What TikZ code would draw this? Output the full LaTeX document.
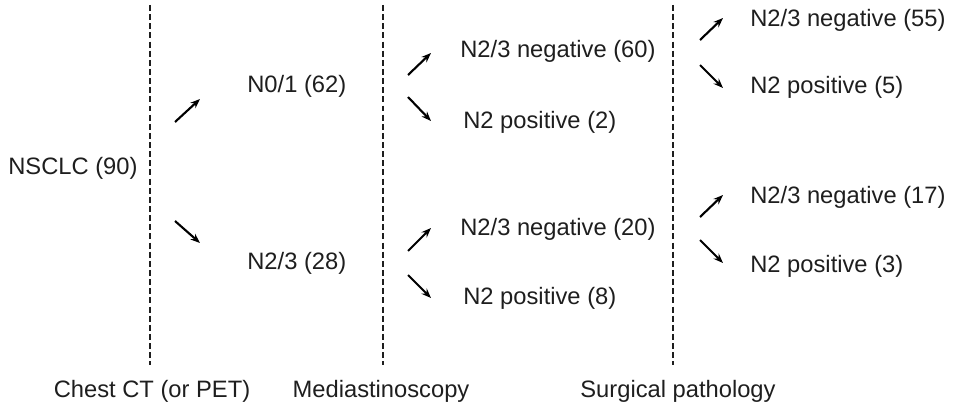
\documentclass[tikz,border=0pt]{standalone}
\usepackage{fontspec}
\setmainfont{Liberation Sans}
\usepackage{xcolor}
\usetikzlibrary{arrows.meta,calc}
\definecolor{inkgray}{RGB}{30,30,30}

\tikzset{
  stage/.style={inner sep=0pt, anchor=west, text=inkgray, font=\fontsize{13.5pt}{16pt}\selectfont},
  caption/.style={inner sep=0pt, text=inkgray, font=\fontsize{13.5pt}{16pt}\selectfont},
  branch/.style={line width=1.2pt, -{Stealth[length=5.5pt,width=4.2pt]}},
  divider/.style={line width=0.7pt, color=inkgray, dash pattern=on 3.4pt off 1.8pt}
}

\begin{document}
\begin{tikzpicture}
  \useasboundingbox (0,0) rectangle (19.24,8.22);

  % Stage dividers
  \draw[divider] (3.0,8.12) -- (3.0,0.92);
  \draw[divider] (7.66,8.12) -- (7.66,0.92);
  \draw[divider] (13.46,8.12) -- (13.46,0.92);

  % Cohort and CT result
  \node[stage] (nsclc) at (0.16,4.86) {NSCLC (90)};
  \node[stage] (n01) at (4.94,6.5) {N0/1 (62)};
  \node[stage] (n23) at (4.94,2.96) {N2/3 (28)};

  % Mediastinoscopy result
  \node[stage] (neg60) at (9.2,7.2) {N2/3 negative (60)};
  \node[stage] (pos2) at (9.26,5.78) {N2 positive (2)};
  \node[stage] (neg20) at (9.2,3.64) {N2/3 negative (20)};
  \node[stage] (pos8) at (9.26,2.26) {N2 positive (8)};

  % Surgical pathology result
  \node[stage] (neg55) at (15.0,7.82) {N2/3 negative (55)};
  \node[stage] (pos5) at (15.0,6.48) {N2 positive (5)};
  \node[stage] (neg17) at (15.0,4.28) {N2/3 negative (17)};
  \node[stage] (pos3) at (15.0,2.9) {N2 positive (3)};

  % Stage captions
  \node[caption] (ctcap) at (3.04,0.4) {Chest CT (or PET)};
  \node[caption] (medcap) at (7.62,0.4) {Mediastinoscopy};
  \node[caption] (surgcap) at (13.56,0.4) {Surgical pathology};

  % Branch arrows
  \coordinate (ctupS) at (3.5,5.78);   \coordinate (ctupE) at (4.0,6.24);
  \coordinate (ctdnS) at (3.5,3.8);    \coordinate (ctdnE) at (4.0,3.36);
  \coordinate (m1upS) at (8.16,6.72);  \coordinate (m1upE) at (8.62,7.16);
  \coordinate (m1dnS) at (8.16,6.28);  \coordinate (m1dnE) at (8.62,5.8);
  \coordinate (m2upS) at (8.16,3.2);   \coordinate (m2upE) at (8.62,3.66);
  \coordinate (m2dnS) at (8.16,2.72);  \coordinate (m2dnE) at (8.62,2.26);
  \coordinate (s1upS) at (14.0,7.42);  \coordinate (s1upE) at (14.46,7.86);
  \coordinate (s1dnS) at (14.0,6.92);  \coordinate (s1dnE) at (14.46,6.46);
  \coordinate (s2upS) at (14.0,3.88);  \coordinate (s2upE) at (14.46,4.32);
  \coordinate (s2dnS) at (14.0,3.42);  \coordinate (s2dnE) at (14.46,2.96);

  \foreach \arr in {ctup,ctdn,m1up,m1dn,m2up,m2dn,s1up,s1dn,s2up,s2dn}
    \draw[branch] (\arr S) -- (\arr E);
\end{tikzpicture}
\end{document}
